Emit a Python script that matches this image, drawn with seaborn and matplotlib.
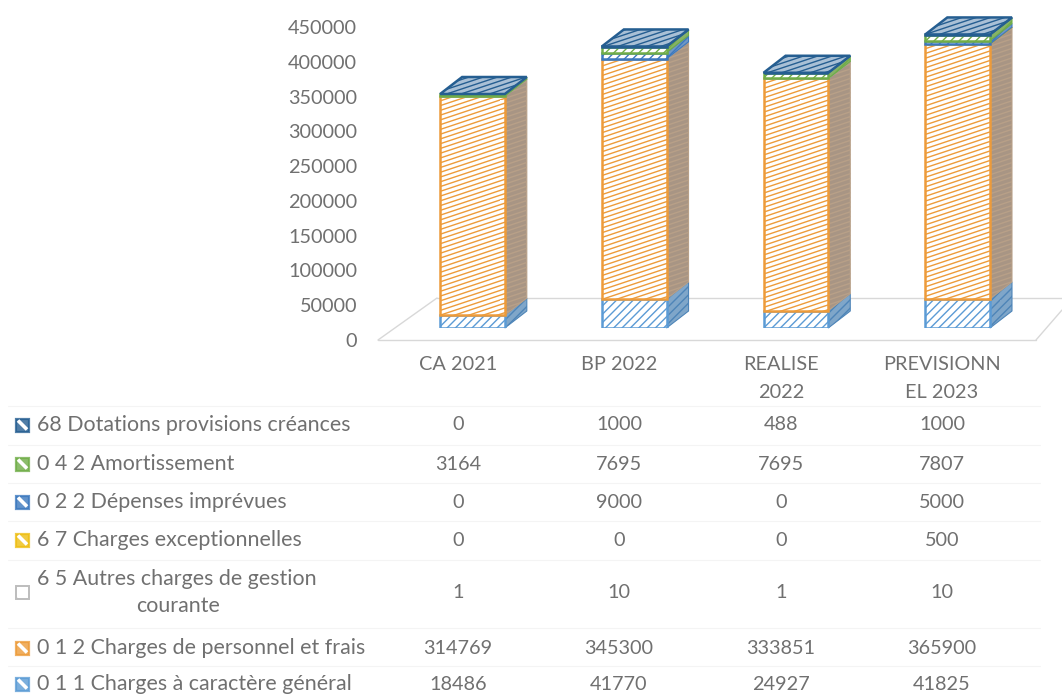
import numpy as np
import seaborn as sns
import matplotlib.pyplot as plt
import matplotlib.hatch as mhatch
from matplotlib.patches import Polygon, Rectangle
from matplotlib.path import Path

categories = ['CA 2021', 'BP 2022', 'REALISE\n2022', 'PREVISIONN\nEL 2023']
column_keys = ['CA 2021', 'BP 2022', 'REALISE 2022', 'PREVISIONNEL 2023']

charges_generales = [18486, 41770, 24927, 41825]
charges_personnel = [314769, 345300, 333851, 365900]
autres_charges = [1, 10, 1, 10]
charges_exceptionnelles = [0, 0, 0, 500]
depenses_imprevues = [0, 9000, 0, 5000]
amortissement = [3164, 7695, 7695, 7807]
dotations = [0, 1000, 488, 1000]

series_labels = ['0 1 1 Charges à caractère général',
                 '0 1 2 Charges de personnel et frais',
                 '6 5 Autres charges de gestion\ncourante',
                 '6 7 Charges exceptionnelles',
                 '0 2 2 Dépenses imprévues',
                 '0 4 2 Amortissement',
                 '68 Dotations provisions créances']
series_values = [charges_generales, charges_personnel, autres_charges,
                 charges_exceptionnelles, depenses_imprevues, amortissement,
                 dotations]
series_colors = ['#5B9BD5', '#ED9B3A', '#A5A5A5', '#EEBE12', '#3B78BE', '#70AD47', '#255E91']
side_colors = ['#7FA6C9', '#A89584', '#A5A5A5', '#C9A52A', '#6F97C6', '#86B268', '#4D7BA6']
side_hatch_colors = ['#4E85B8', '#B8A088', '#A5A5A5', '#C9A52A', '#3B78BE', '#70AD47', '#255E91']
series_hatches = ['|', '-', '.', '|', '|', '|', '|']
y_ticks = [0, 50000, 100000, 150000, 200000, 250000, 300000, 350000, 400000, 450000]


# shallow stripes for '-' and wide 45 degree stripes for '|', closer to the scan
class SlantHatch(mhatch.HatchPatternBase):
    symbol = '-'
    lines = 21
    rise = 7

    def __init__(self, hatch, density):
        self.on = hatch.count(self.symbol) > 0
        self.num_vertices = (self.lines + self.rise) * 2 if self.on else 0

    def set_vertices_and_codes(self, vertices, codes):
        steps = np.arange(-self.rise, self.lines) / self.lines
        vertices[0::2, 0] = 0
        vertices[0::2, 1] = steps
        vertices[1::2, 0] = 1
        vertices[1::2, 1] = steps + self.rise / self.lines
        codes[0::2] = Path.MOVETO
        codes[1::2] = Path.LINETO


class WideHatch(SlantHatch):
    symbol = '|'
    lines = 12
    rise = 12


mhatch._hatch_types[mhatch._hatch_types.index(mhatch.HorizontalHatch)] = SlantHatch
mhatch._hatch_types[mhatch._hatch_types.index(mhatch.VerticalHatch)] = WideHatch

sns.set_style('white')
plt.rcParams['font.family'] = ['Lato', 'DejaVu Sans']
plt.rcParams['hatch.linewidth'] = 1.0
text_color = '#707070'
font_size = 14.3
label_size = 15.4

W, H = 1062, 697
fig = plt.figure(figsize=(W / 100, H / 100), dpi=100)


def px_axes(left, right, top, bottom):
    return fig.add_axes([left / W, 1 - bottom / H, (right - left) / W, (bottom - top) / H])


# page overlay in pixels: floor, table rules, texts
page = px_axes(0, W, 0, H)
page.set_xlim(0, W)
page.set_ylim(H, 0)
page.axis('off')

floor_color = '#D8D8D8'
page.plot([378, 1036], [340, 340], color=floor_color, lw=1)
page.plot([378, 437], [340, 298], color=floor_color, lw=1)
page.plot([437, 1062], [298, 298], color=floor_color, lw=1)
page.plot([1036, 1062], [340, 310], color=floor_color, lw=1)

# y axis
ax_ticks = px_axes(378, 1036, 27, 340)
ax_ticks.set_ylim(0, 450000)
ax_ticks.set_yticks(y_ticks)
ax_ticks.set_xticks([])
ax_ticks.tick_params(axis='y', length=0, pad=15, labelsize=font_size, labelcolor=text_color)
ax_ticks.patch.set_alpha(0)
sns.despine(ax=ax_ticks, left=True, bottom=True)

# front faces of the bars
ax_bars = px_axes(391.6, 1038.5, 15, 328)
ax_bars.set_ylim(0, 450000)
ax_bars.patch.set_alpha(0)

depth_x = 22 / 161.7
depth_y = 17 * 450000 / 313

bottoms = np.zeros(len(column_keys))
for values, color, side, side_hatch, hatch in zip(series_values, series_colors, side_colors,
                                                  side_hatch_colors, series_hatches):
    n_before = len(ax_bars.patches)
    sns.barplot(x=column_keys, y=values, bottom=bottoms, ax=ax_bars, color='white',
                saturation=1, width=0.4, edgecolor=color, linewidth=1.8, hatch=hatch,
                zorder=3)
    for bar in list(ax_bars.patches[n_before:]):
        if bar.get_height() <= 0:
            bar.set_visible(False)
            continue
        x1 = bar.get_x() + bar.get_width()
        y0, y1 = bar.get_y(), bar.get_y() + bar.get_height()
        ax_bars.add_patch(Polygon([(x1, y0), (x1 + depth_x, y0 + depth_y),
                                   (x1 + depth_x, y1 + depth_y), (x1, y1)],
                                  facecolor=side, edgecolor=side_hatch, linewidth=0.8,
                                  hatch=hatch, zorder=2, clip_on=False))
    bottoms = bottoms + np.array(values)

# top faces use the last series colour
for i, total in enumerate(bottoms):
    bar = ax_bars.patches[i]
    x0 = bar.get_x()
    x1 = x0 + bar.get_width()
    ax_bars.add_patch(Polygon([(x0, total), (x1, total), (x1 + depth_x, total + depth_y),
                               (x0 + depth_x, total + depth_y)],
                              facecolor='#A9C0D6', edgecolor=series_colors[-1], linewidth=1.8,
                              hatch='-', zorder=4, clip_on=False))

ax_bars.set_xlim(-0.5, 3.5)
ax_bars.axis('off')

# category labels and table
col_x = [458, 619, 781, 942]
row_y = [684, 648, 592, 540, 502, 464, 425]
rule_y = [406, 445, 483, 521, 560, 628, 666]

for y in rule_y:
    page.plot([8, 1040], [y, y], color='#F4F4F4', lw=0.8)

for x, label in zip(col_x, categories):
    lines = label.split('\n')
    for k, line in enumerate(lines):
        page.text(x, 365 + 27 * k, line, ha='center', va='center',
                  color=text_color, fontsize=font_size)

for label, values, color, hatch, y in zip(series_labels, series_values, series_colors,
                                          series_hatches, row_y):
    if hatch == '.':
        page.add_patch(Rectangle((16, y - 6.5), 13, 13, facecolor='white', edgecolor='#BDBDBD',
                                 linewidth=1.4, hatch='.'))
    else:
        page.add_patch(Rectangle((16, y - 6.5), 13, 13, facecolor=color, edgecolor=color,
                                 linewidth=1.6, alpha=0.8))
        page.plot([18, 27], [y - 4.5, y + 4.5], color='white', lw=2.6, solid_capstyle='butt')
    lines = label.split('\n')
    if len(lines) == 2:
        page.text(37, y - 13, lines[0], ha='left', va='center', color=text_color, fontsize=label_size)
        page.text(178, y + 14, lines[1], ha='center', va='center', color=text_color, fontsize=label_size)
    else:
        page.text(37, y, label, ha='left', va='center', color=text_color, fontsize=label_size)
    for x, v in zip(col_x, values):
        page.text(x, y, str(v), ha='center', va='center', color=text_color, fontsize=font_size)

fig.savefig('out.png', dpi=100, facecolor='white')
